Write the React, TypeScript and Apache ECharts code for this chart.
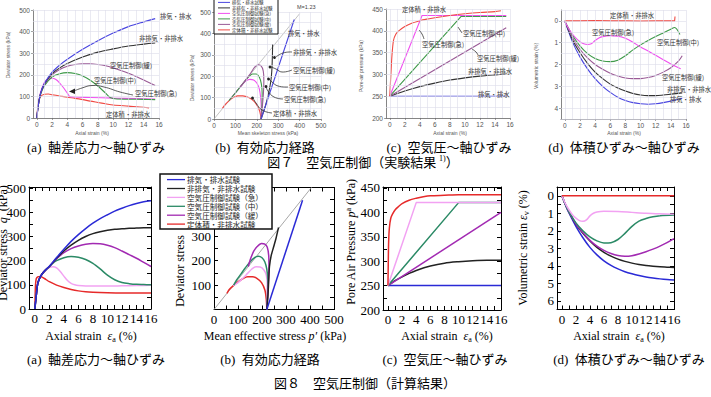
import React, { useEffect, useRef } from "react";
import * as echarts from "echarts";

type P = [number, number];

// ---------- fonts ----------
const SANS = "'Liberation Sans', 'DejaVu Sans', sans-serif";
const SERIF = "'Liberation Serif', 'Times New Roman', serif";
const JP = "'Noto Sans CJK JP', sans-serif";
const SERIF_JP = "'Liberation Serif', 'Noto Sans CJK JP', serif";

// ---------- tick values ----------
const strainLabels = [0, 2, 4, 6, 8, 10, 12, 14, 16];
const strainTicks = [0, 1, 2, 3, 4, 5, 6, 7, 8, 9, 10, 11, 12, 13, 14, 15, 16];
const stressLabels = [0, 100, 200, 300, 400, 500];
const pathStressLabels = [100, 200, 300];
const stressTicks = [0, 50, 100, 150, 200, 250, 300, 350, 400, 450, 500];
const airLabels = [200, 250, 300, 350, 400, 450];
const airTicks = [200, 225, 250, 275, 300, 325, 350, 375, 400, 425, 450];
const volLabelsExp = [0, 1, 2, 3, 4];
const volGridExp = [-0.5, 0, 0.5, 1, 1.5, 2, 2.5, 3, 3.5, 4, 4.5];
const volLabelsCalc = [0, 1, 2, 3, 4, 5, 6];
const volTicksCalc = [0, 0.5, 1, 1.5, 2, 2.5, 3, 3.5, 4, 4.5, 5, 5.5, 6];

// ---------- Fig.7 experiment: (a) deviator stress vs axial strain ----------
const expA_drained: P[] = [[0, 0], [0.2, 60], [0.5, 115], [1, 160], [2, 212], [3, 245], [4, 272], [6, 318], [8, 358], [10, 393], [12, 423], [14, 445], [15.5, 460]];
const expA_undrained: P[] = [[0, 0], [0.2, 60], [0.5, 115], [1, 158], [2, 205], [3, 232], [4, 252], [6, 282], [8, 305], [10, 320], [12, 333], [14, 342], [15.5, 348]];
const expA_slow: P[] = [[0, 0], [0.2, 60], [0.5, 112], [1, 155], [2, 200], [3, 225], [4, 240], [5, 248], [6, 251], [7, 251], [8, 248], [9, 242], [10, 232], [11, 220], [12, 207], [13, 192], [14, 176], [15.5, 150]];
const expA_mid: P[] = [[0, 0], [0.2, 60], [0.5, 110], [1, 150], [2, 190], [3, 205], [4, 210], [5, 206], [6, 195], [7, 175], [8, 148], [9, 115], [9.6, 95], [10.5, 88], [12, 87], [14, 86], [15.5, 85]];
const expA_fast: P[] = [[0, 0], [0.2, 60], [0.5, 120], [1, 165], [1.5, 182], [2, 184], [2.5, 178], [3, 162], [3.5, 140], [4, 115], [4.3, 100], [5, 97], [7, 95], [10, 92], [13, 90], [15.5, 88]];
const expA_constVol: P[] = [[0, 0], [0.2, 70], [0.5, 100], [1, 110], [1.5, 111], [2, 108], [3, 102], [4, 96], [5, 91], [6, 85], [7, 78], [8, 72], [9, 66], [10, 60], [12, 55], [14, 50], [14.7, 47]];

// ---------- Fig.7 experiment: (b) effective stress path ----------
const expB_mLine: P[] = [[0, 0], [400, 492]];
const expB_drained: P[] = [[220, 0], [375, 465]];
const expB_undrained: P[] = [[220, 0], [240, 60], [255, 120], [266, 180], [271, 240], [273, 300], [274, 350]];
const expB_slow: P[] = [[220, 0], [226, 60], [231, 120], [233, 180], [230, 225], [220, 248], [205, 253], [190, 242], [172, 215], [155, 192], [140, 172], [122, 150]];
const expB_mid: P[] = [[220, 0], [224, 60], [225, 120], [221, 165], [212, 195], [198, 210], [180, 210], [163, 198], [145, 178], [125, 153], [105, 128], [85, 104], [70, 86]];
const expB_fast: P[] = [[220, 0], [221, 50], [218, 100], [212, 140], [200, 168], [185, 182], [168, 185], [150, 178], [132, 160], [115, 140], [95, 116], [72, 88]];
const expB_constVol: P[] = [[220, 0], [214, 35], [202, 62], [185, 85], [162, 100], [135, 108], [110, 108], [90, 100], [70, 85], [50, 65], [38, 48]];

// ---------- Fig.7 experiment: (c) pore air pressure ----------
const expC_drained: P[] = [[0, 250], [15.5, 250]];
const expC_undrained: P[] = [[0, 250], [1, 256], [2, 262], [4, 272], [6, 280], [8, 287], [10, 292], [12, 296], [14, 299], [15.5, 301]];
const expC_slow: P[] = [[0, 250], [15.5, 407]];
const expC_mid: P[] = [[0, 250], [9.5, 433], [15.5, 433]];
const expC_fast: P[] = [[0, 250], [4.3, 435], [15.5, 435]];
const expC_constVol: P[] = [[0, 250], [0.15, 300], [0.3, 345], [0.5, 378], [0.8, 392], [1.2, 400], [2, 410], [3, 418], [4, 423], [4.4, 425], [5, 427], [6, 430], [8, 435], [10, 439], [12, 442], [14, 444], [14.8, 446]];

// ---------- Fig.7 experiment: (d) volumetric strain ----------
const expD_constVol: P[] = [[0, 0], [2, 0], [4, -0.02], [6, 0], [8, 0], [10, 0.01], [12, 0], [14, 0], [14.5, 0], [14.55, -0.2]];
const expD_fast: P[] = [[0, 0], [0.5, 0.35], [1, 0.6], [1.5, 0.8], [2, 0.95], [2.5, 1.05], [3, 1.08], [3.5, 1.05], [4, 0.9], [4.5, 0.78], [5, 0.72], [6, 0.68], [7, 0.7], [8, 0.8], [9, 0.98], [10, 1.2], [11, 1.38], [12, 1.58], [13, 1.78], [14, 1.98], [15.3, 2.2]];
const expD_mid: P[] = [[0, 0], [1, 0.65], [2, 1.15], [3, 1.5], [4, 1.72], [5, 1.84], [6, 1.87], [7, 1.8], [8, 1.6], [9, 1.33], [10, 1.1], [11, 0.9], [12, 0.72], [13, 0.55], [14, 0.38], [14.5, 0.3], [15.2, 0.62]];
const expD_slow: P[] = [[0, 0], [1, 0.75], [2, 1.3], [3, 1.7], [4, 2.0], [5, 2.22], [6, 2.4], [7, 2.53], [8, 2.62], [9, 2.65], [10, 2.65], [11, 2.6], [12, 2.5], [13, 2.35], [14, 2.15], [15, 1.85], [15.5, 1.6]];
const expD_undrained: P[] = [[0, 0], [1, 0.85], [2, 1.45], [3, 1.95], [4, 2.35], [5, 2.65], [6, 2.9], [7, 3.08], [8, 3.22], [9, 3.33], [10, 3.4], [11, 3.43], [12, 3.43], [13, 3.4], [14, 3.36], [15.5, 3.3]];
const expD_drained: P[] = [[0, 0], [1, 0.95], [2, 1.65], [3, 2.2], [4, 2.65], [5, 3.0], [6, 3.28], [7, 3.5], [8, 3.65], [9, 3.75], [10, 3.8], [11, 3.82], [12, 3.8], [13, 3.75], [14, 3.68], [15.5, 3.55]];

// ---------- Fig.8 calculation: (a) ----------
const calcA_drained: P[] = [[0, 0], [0.2, 55], [0.4, 105], [0.7, 130], [1, 145], [1.5, 162], [2, 177], [3, 213], [4, 247], [5, 280], [6, 308], [7, 333], [8, 355], [9, 374], [10, 390], [11, 405], [12, 417], [13, 428], [14, 437], [15, 444], [16, 448]];
const calcA_undrained: P[] = [[0, 0], [0.2, 55], [0.4, 105], [0.7, 130], [1, 145], [1.5, 162], [2, 176], [3, 210], [4, 240], [5, 264], [6, 284], [7, 300], [8, 312], [9, 320], [10, 326], [11, 330], [12, 332], [13, 334], [14, 335], [15, 336], [16, 336]];
const calcA_slow: P[] = [[0, 0], [0.2, 55], [0.4, 105], [0.7, 130], [1, 145], [1.5, 162], [2, 176], [3, 208], [4, 233], [5, 250], [6, 261], [7, 268], [8, 271], [9, 270], [10, 264], [11, 254], [12, 240], [13, 225], [14, 210], [15, 193], [16, 176]];
const calcA_mid: P[] = [[0, 0], [0.2, 55], [0.4, 105], [0.7, 130], [1, 145], [1.5, 162], [2, 175], [2.5, 190], [3, 200], [4, 212], [5, 217], [6, 214], [7, 205], [8, 189], [9, 166], [10, 140], [11, 121], [12, 110], [13, 105], [14, 102], [15, 101], [16, 100]];
const calcA_fast: P[] = [[0, 0], [0.2, 55], [0.4, 105], [0.7, 130], [1, 145], [1.5, 162], [2, 172], [2.5, 175], [3, 170], [3.5, 155], [4, 136], [4.5, 118], [5, 106], [5.5, 100], [6, 97], [7, 95], [8, 95], [10, 95], [12, 96], [14, 97], [16, 98]];
const calcA_constVol: P[] = [[0, 0], [0.05, 60], [0.1, 100], [0.2, 125], [0.4, 133], [0.7, 135], [1, 132], [1.5, 123], [2, 113], [3, 99], [4, 89], [5, 81], [6, 75], [7, 71], [8, 69], [10, 67], [12, 66], [16, 66]];

// ---------- Fig.8 calculation: (b) ----------
const calcB_mLine: P[] = [[0, 0], [406, 500]];
const calcB_drained: P[] = [[220, 0], [369, 448]];
const calcB_undrained: P[] = [[220, 0], [225, 60], [228, 120], [231, 175], [238, 220], [248, 255], [258, 290], [265, 320], [269, 336]];
const calcB_slow: P[] = [[220, 0], [224, 60], [227, 120], [229, 175], [228, 220], [222, 255], [212, 268], [198, 270], [180, 258], [165, 238], [155, 215], [148, 195], [143, 176]];
const calcB_mid: P[] = [[220, 0], [223, 60], [224, 120], [220, 165], [212, 195], [200, 212], [185, 218], [168, 212], [150, 195], [130, 170], [112, 145], [95, 122], [82, 100]];
const calcB_fast: P[] = [[220, 0], [222, 50], [222, 100], [218, 140], [208, 162], [192, 174], [175, 175], [158, 166], [140, 148], [120, 128], [100, 110], [80, 98]];
const calcB_constVol: P[] = [[220, 0], [218, 40], [212, 80], [198, 110], [180, 127], [160, 134], [140, 134], [120, 126], [100, 113], [80, 97], [62, 80], [54, 66]];

// ---------- Fig.8 calculation: (c) ----------
const calcC_drained: P[] = [[0, 250], [16, 250]];
const calcC_undrained: P[] = [[0, 250], [1, 260], [2, 268], [3, 275], [4, 281], [6, 290], [8, 296], [10, 299], [12, 301], [14, 302], [16, 302]];
const calcC_slow: P[] = [[0, 250], [16, 400]];
const calcC_mid: P[] = [[0, 250], [10, 420], [16, 420]];
const calcC_fast: P[] = [[0, 250], [4, 420], [16, 420]];
const calcC_constVol: P[] = [[0, 250], [0.05, 300], [0.1, 340], [0.2, 368], [0.4, 388], [0.7, 398], [1, 405], [1.5, 412], [2, 418], [3, 425], [4, 429], [5, 432], [6, 434], [8, 435], [10, 436], [16, 436]];

// ---------- Fig.8 calculation: (d) ----------
const calcD_constVol: P[] = [[0, 0], [16, 0]];
const calcD_fast: P[] = [[0, 0], [0.5, 0.45], [1, 0.8], [1.5, 1.08], [2, 1.28], [2.5, 1.42], [3, 1.46], [3.5, 1.38], [4, 1.15], [4.5, 1.0], [5, 0.93], [6, 0.89], [8, 0.9], [10, 0.95], [12, 1.0], [14, 1.03], [16, 1.05]];
const calcD_mid: P[] = [[0, 0], [0.5, 0.5], [1, 0.9], [2, 1.55], [3, 2.0], [4, 2.35], [5, 2.58], [6, 2.7], [7, 2.68], [8, 2.5], [9, 2.15], [10, 1.75], [11, 1.45], [12, 1.3], [13, 1.2], [14, 1.14], [16, 1.1]];
const calcD_slow: P[] = [[0, 0], [0.5, 0.5], [1, 0.92], [2, 1.6], [3, 2.1], [4, 2.55], [5, 2.88], [6, 3.12], [7, 3.3], [8, 3.42], [9, 3.46], [10, 3.43], [11, 3.33], [12, 3.2], [13, 3.05], [14, 2.88], [15, 2.68], [16, 2.45]];
const calcD_undrained: P[] = [[0, 0], [0.5, 0.5], [1, 0.92], [2, 1.62], [3, 2.15], [4, 2.58], [5, 2.95], [6, 3.23], [7, 3.45], [8, 3.62], [9, 3.75], [10, 3.85], [11, 3.93], [12, 3.99], [13, 4.03], [14, 4.06], [15, 4.08], [16, 4.1]];
const calcD_drained: P[] = [[0, 0], [0.5, 0.52], [1, 0.97], [2, 1.75], [3, 2.4], [4, 2.95], [5, 3.38], [6, 3.72], [7, 3.98], [8, 4.18], [9, 4.34], [10, 4.46], [11, 4.56], [12, 4.64], [13, 4.7], [14, 4.75], [15, 4.79], [16, 4.82]];

// ---------- legend texts & colours ----------
const expLegend = ["排気・排水試験", "非排気・非排水試験", "空気圧制御試験(急)", "空気圧制御試験(中)", "空気圧制御試験(緩)", "定体積・非排水試験"];
const calcLegend = ["排気・排水試験", "非排気・非排水試験", "空気圧制御試験（急）", "空気圧制御試験（中）", "空気圧制御試験（緩）", "定体積・非排水試験"];
const expColors = ["#4a46e0", "#333333", "#f050f0", "#3f9a4a", "#9a5a96", "#f04a44"];
const calcColors = ["#2a2ad6", "#222222", "#f2a2f2", "#2b8a66", "#a22ab2", "#e62a2a"];

const W = 711;
const H = 397;

const range = (a: number, b: number, s: number) => {
  const out: number[] = [];
  for (let v = a; v <= b + 1e-9; v += s) out.push(Math.round(v * 1000) / 1000);
  return out;
};

function buildOption() {
  const grids = [
    { left: 33, top: 10, width: 126, height: 108 },
    { left: 214, top: 12, width: 107, height: 107 },
    { left: 386, top: 9, width: 124, height: 109 },
    { left: 561, top: 10, width: 125, height: 109 },
    { left: 29, top: 187, width: 122, height: 122 },
    { left: 214, top: 187.5, width: 120, height: 122 },
    { left: 383, top: 187, width: 118, height: 123 },
    { left: 557, top: 187, width: 117, height: 122.5 },
  ];

  const topAxisLine = { show: true, onZero: false, lineStyle: { color: "#666", width: 0.8 } };
  const topLabel = (vals: number[]) => ({ customValues: vals, fontSize: 6.5, color: "#555", fontFamily: SANS, margin: 3 });
  const topTick = (vals: number[]) => ({ show: true, inside: false, length: 2, customValues: vals, lineStyle: { color: "#666", width: 0.6 } });

  const xTop = (gi: number, min: number, max: number, labels: number[]) => ({
    type: "value", gridIndex: gi, min, max, position: "bottom",
    axisLine: topAxisLine, axisTick: topTick(labels), axisLabel: topLabel(labels), splitLine: { show: false },
  });
  const yTop = (gi: number, min: number, max: number, labels: number[], inverse = false) => ({
    type: "value", gridIndex: gi, min, max, inverse, position: "left",
    axisLine: topAxisLine, axisTick: topTick(labels), axisLabel: topLabel(labels), splitLine: { show: false },
  });

  const blackLine = { show: true, onZero: false, lineStyle: { color: "#000", width: 1 } };
  const calcTick = (vals: number[]) => ({ show: true, inside: true, length: 4, customValues: vals, lineStyle: { color: "#000", width: 1 } });
  const calcLabel = (vals: number[], margin: number) => ({ customValues: vals, fontSize: 13, color: "#000", fontFamily: SERIF, margin });

  const xCalc = (gi: number, min: number, max: number, labels: number[], ticks: number[], pos: "bottom" | "top") => ({
    type: "value", gridIndex: gi, min, max, position: pos,
    axisLine: blackLine, axisTick: calcTick(ticks),
    axisLabel: pos === "bottom" ? calcLabel(labels, 3) : { show: false },
    splitLine: { show: false },
  });
  const yCalc = (gi: number, min: number, max: number, labels: number[], ticks: number[], pos: "left" | "right", inverse = false) => ({
    type: "value", gridIndex: gi, min, max, inverse, position: pos,
    axisLine: blackLine, axisTick: calcTick(ticks),
    axisLabel: pos === "left" ? calcLabel(labels, 3) : { show: false },
    splitLine: { show: false },
  });

  const xAxis = [
    xTop(0, -0.5, 16, strainLabels),
    xTop(1, 0, 500, stressLabels),
    xTop(2, -0.5, 16, strainLabels),
    xTop(3, -0.5, 16, strainLabels),
    xCalc(4, -0.8, 16, strainLabels, strainTicks, "bottom"),
    xCalc(5, 0, 500, stressLabels, stressTicks, "bottom"),
    xCalc(6, -0.7, 16, strainLabels, strainTicks, "bottom"),
    xCalc(7, -0.7, 16, strainLabels, strainTicks, "bottom"),
    xCalc(4, -0.8, 16, strainLabels, strainTicks, "top"),
    xCalc(5, 0, 500, stressLabels, stressTicks, "top"),
    xCalc(6, -0.7, 16, strainLabels, strainTicks, "top"),
    xCalc(7, -0.7, 16, strainLabels, strainTicks, "top"),
  ];
  const yAxis = [
    yTop(0, 0, 500, stressLabels),
    yTop(1, 0, 500, stressLabels),
    yTop(2, 200, 450, airLabels),
    yTop(3, -0.5, 4.5, volLabelsExp, true),
    yCalc(4, 0, 505, stressLabels, stressTicks, "left"),
    yCalc(5, 0, 500, pathStressLabels, stressTicks, "left"),
    yCalc(6, 200, 452, airLabels, airTicks, "left"),
    yCalc(7, -0.5, 6.5, volLabelsCalc, volTicksCalc, "left", true),
    yCalc(4, 0, 505, stressLabels, stressTicks, "right"),
    yCalc(5, 0, 500, stressLabels, stressTicks, "right"),
    yCalc(6, 200, 452, airLabels, airTicks, "right"),
    yCalc(7, -0.5, 6.5, volLabelsCalc, volTicksCalc, "right", true),
  ];

  // faint reference grid of the experiment panels
  const gridLines = (gi: number, xs: number[], ys: number[]) => ({
    type: "line", xAxisIndex: gi, yAxisIndex: gi, data: [], silent: true, z: 1,
    markLine: {
      silent: true, symbol: ["none", "none"], label: { show: false }, animation: false,
      lineStyle: { color: "#dcdcea", width: 0.6, type: "solid" },
      emphasis: { disabled: true },
      data: [...xs.map((v) => ({ xAxis: v })), ...ys.map((v) => ({ yAxis: v }))],
    },
  });

  const curve = (gi: number, data: P[], color: string, width: number, smooth: number | boolean = 0.3) => ({
    type: "line", xAxisIndex: gi, yAxisIndex: gi, data, symbol: "none", showSymbol: false,
    smooth, silent: true, z: 3, lineStyle: { color, width }, emphasis: { disabled: true },
  });

  const E = expColors;
  const C = calcColors;
  const ew = 1.1;
  const cw = 1.5;

  const series: any[] = [
    gridLines(0, range(0, 16, 1), range(50, 500, 50)),
    gridLines(1, range(50, 500, 50), range(50, 500, 50)),
    gridLines(2, range(0, 16, 1), range(225, 450, 25)),
    gridLines(3, range(0, 16, 1), volGridExp),

    curve(0, expA_constVol, E[5], ew), curve(0, expA_fast, E[2], ew), curve(0, expA_mid, E[3], ew),
    curve(0, expA_slow, E[4], ew), curve(0, expA_undrained, E[1], ew), curve(0, expA_drained, E[0], ew),

    curve(1, expB_mLine, "#b4b4b4", 0.8, false),
    curve(1, expB_constVol, E[5], ew), curve(1, expB_fast, E[2], ew), curve(1, expB_mid, E[3], ew),
    curve(1, expB_slow, E[4], ew), curve(1, expB_undrained, E[1], ew, 0.2), curve(1, expB_drained, E[0], ew, false),

    curve(2, expC_drained, E[0], ew, false), curve(2, expC_undrained, E[1], ew), curve(2, expC_slow, E[4], ew, false),
    curve(2, expC_mid, E[3], ew, false), curve(2, expC_fast, E[2], ew, false), curve(2, expC_constVol, E[5], ew),

    curve(3, expD_drained, E[0], ew), curve(3, expD_undrained, E[1], ew), curve(3, expD_slow, E[4], ew),
    curve(3, expD_mid, E[3], ew), curve(3, expD_fast, E[2], ew), curve(3, expD_constVol, E[5], ew, false),

    curve(4, calcA_constVol, C[5], cw), curve(4, calcA_fast, C[2], cw), curve(4, calcA_mid, C[3], cw),
    curve(4, calcA_slow, C[4], cw), curve(4, calcA_undrained, C[1], cw), curve(4, calcA_drained, C[0], cw),

    curve(5, calcB_mLine, "#a8a8a8", 1, false),
    curve(5, calcB_constVol, C[5], cw), curve(5, calcB_fast, C[2], cw), curve(5, calcB_mid, C[3], cw),
    curve(5, calcB_slow, C[4], cw), curve(5, calcB_undrained, C[1], cw, 0.2), curve(5, calcB_drained, C[0], cw, false),

    curve(6, calcC_drained, C[0], cw, false), curve(6, calcC_undrained, C[1], cw), curve(6, calcC_slow, C[4], cw, false),
    curve(6, calcC_mid, C[3], cw, false), curve(6, calcC_fast, C[2], cw, false), curve(6, calcC_constVol, C[5], cw),

    curve(7, calcD_drained, C[0], cw), curve(7, calcD_undrained, C[1], cw), curve(7, calcD_slow, C[4], cw),
    curve(7, calcD_mid, C[3], cw), curve(7, calcD_fast, C[2], cw), curve(7, calcD_constVol, C[5], cw, false),
  ];

  // ---------- graphic texts ----------
  const txt = (text: string, x: number, y: number, o: any = {}) => ({
    type: "text", x, y, z: o.z || 20, silent: true, rotation: o.rot || 0,
    style: {
      text, fill: o.fill || "#000", fontSize: o.size || 12, fontFamily: o.family || JP,
      fontStyle: o.italic ? "italic" : "normal", fontWeight: o.weight || "normal",
      lineHeight: o.lineHeight,
      textAlign: o.align || "left", align: o.align || "left",
      textVerticalAlign: "middle", verticalAlign: "middle", rich: o.rich,
    },
  });
  const note = (text: string, x: number, y: number) => txt(text, x, y, { size: 6.3, fill: "#333" });
  const axName = (text: string, x: number, y: number, rot = false) =>
    txt(text, x, y, { size: 5, fill: "#555", family: SANS, align: "center", rot: rot ? Math.PI / 2 : 0 });

  const richSerif = {
    e: { fontFamily: SERIF, fontStyle: "italic", fontSize: 12, lineHeight: 14 },
    s: { fontFamily: SERIF, fontSize: 8, verticalAlign: "bottom", lineHeight: 14, padding: [4, 0, 0, 0] },
    t: { fontFamily: SERIF, fontSize: 8, verticalAlign: "top", lineHeight: 14 },
  };
  const calcName = (text: string, x: number, y: number, rot = false) =>
    txt(text, x, y, { size: 12, family: SERIF, align: "center", rot: rot ? Math.PI / 2 : 0, rich: richSerif });

  const leader = (pts: number[][], dot?: number[]) => {
    const g: any[] = [{ type: "polyline", z: 18, silent: true, shape: { points: pts, smooth: 0.5 }, style: { stroke: "#333", lineWidth: 0.8, fill: "none" } }];
    if (dot) g.push({ type: "circle", z: 19, silent: true, shape: { cx: dot[0], cy: dot[1], r: 1.4 }, style: { fill: "#222" } });
    return g;
  };

  // legend drawn as a framed box; every element carries its own z so it sits above axes and labels
  const legendBox = (x: number, y: number, w: number, h: number, rows: number[], lineX: number[], textX: number, size: number, names: string[], colors: string[], border: number, lw: number) => {
    const els: any[] = [{ type: "rect", z: 60, silent: true, shape: { x, y, width: w, height: h }, style: { fill: "#fff", stroke: "#111", lineWidth: border } }];
    names.forEach((n, i) => {
      els.push({ type: "line", z: 61, silent: true, shape: { x1: lineX[0], y1: rows[i], x2: lineX[1], y2: rows[i] }, style: { stroke: colors[i], lineWidth: lw } });
      els.push(txt(n, textX, rows[i], { size, fill: "#222", z: 61, lineHeight: size }));
    });
    return els;
  };

  const graphic: any[] = [
    // experiment axis names
    axName("Deviator stress (kPa)", 8, 55, true),
    axName("Axial strain (%)", 92, 133),
    axName("Deviator stress (kPa)", 192, 78, true),
    axName("Mean skeleton stress (kPa)", 268, 133),
    axName("Pore-air pressure (kPa)", 361, 66, true),
    axName("Axial strain (%)", 450, 133),
    axName("Volumetric strain (%)", 536, 66, true),
    axName("Axial strain (%)", 624, 133),

    // experiment curve notes
    note("排気・排水", 160, 16), note("非排気・非排水", 139, 38), note("空気圧制御(緩)", 110, 65),
    note("空気圧制御(中)", 94, 80), note("空気圧制御(急)", 135, 93), note("定体積・非排水", 106, 114),
    ...leader([[133, 95], [120, 92], [104, 87], [92, 85.5], [82, 88], [74, 91]]),
    { type: "polygon", z: 19, silent: true, shape: { points: [[69, 91.5], [75, 88.5], [75, 94]] }, style: { fill: "#222" } },

    txt("M=1.23", 297, 7, { size: 5.5, family: SANS, fill: "#444" }),
    note("排気・排水", 288, 33), note("非排気・非排水", 293, 52), note("空気圧制御(緩)", 293, 70),
    note("空気圧制御(中)", 289, 87), note("空気圧制御(急)", 284, 99), note("定体積・非排水", 273, 113),
    ...leader([[292, 52], [283, 53], [276, 57]], [274.5, 57.5]),
    ...leader([[292, 70], [282, 72], [276, 69], [271, 67]], [270, 67]),
    ...leader([[288, 87], [278, 86], [272, 82], [269, 79]], [268.5, 79]),
    ...leader([[283, 99], [274, 97], [268, 91], [266, 87]], [266, 86.5]),
    ...leader([[272, 113], [262, 110], [256, 103], [253, 98]], [252.5, 98]),

    note("定体積・非排水", 402, 9), note("空気圧制御(中)", 463, 33), note("空気圧制御(急)", 422, 44),
    note("空気圧制御(緩)", 477, 58), note("非排気・非排水", 468, 71), note("排気・排水", 478, 94),
    ...leader([[424, 39], [422, 34], [419, 30]]),
    ...leader([[462, 33], [460, 30], [458, 27]]),
    ...leader([[478, 55], [476, 52], [472, 49]]),

    note("定体積・非排水", 610, 15), note("空気圧制御(急)", 592, 32), note("空気圧制御(中)", 657, 42),
    note("空気圧制御(緩)", 662, 77), note("非排気・非排水", 667, 89), note("排気・排水", 670, 99),

    ...legendBox(214, -1, 64, 35, [2.4, 7.9, 13.4, 18.9, 24.4, 29.9], [218, 230], 232, 4.5, expLegend, expColors, 1, 1),

    // captions of Fig.7
    txt("(a)  軸差応力〜軸ひずみ", 96, 147, { size: 13, family: SERIF_JP, align: "center" }),
    txt("(b)  有効応力経路", 265, 147, { size: 13, family: SERIF_JP, align: "center" }),
    txt("(c)  空気圧〜軸ひずみ", 449, 147, { size: 13, family: SERIF_JP, align: "center" }),
    txt("(d)  体積ひずみ〜軸ひずみ", 624, 147, { size: 13, family: SERIF_JP, align: "center" }),
    txt("図７　空気圧制御（実験結果 {t|1)}）", 363, 161, { size: 13, align: "center", rich: richSerif }),

    // calculation axis names
    calcName("Deviator stress  {e|q}  (kPa)", 3, 243, true),
    calcName("Deviator stress", 180, 271, true),
    calcName("Pore Air Pressure {e|p}{t|a} (kPa)", 351, 242, true),
    calcName("Volumetric strain {e|ε}{s|v} (%)", 523, 248, true),
    calcName("Axial strain  {e|ε}{s|a} (%)", 91, 336),
    calcName("Mean effective stress {e|p′} (kPa)", 275, 336),
    calcName("Axial strain  {e|ε}{s|a} (%)", 447, 336),
    calcName("Axial strain  {e|ε}{s|a} (%)", 619, 336),

    ...legendBox(160, 174, 112, 55, [179.6, 188.5, 197.4, 206.3, 215.2, 224.1], [167, 185], 187, 7.6, calcLegend, calcColors, 1.5, 1.3),

    // captions of Fig.8
    txt("(a)  軸差応力〜軸ひずみ", 96, 359, { size: 13, family: SERIF_JP, align: "center" }),
    txt("(b)  有効応力経路", 270, 359, { size: 13, family: SERIF_JP, align: "center" }),
    txt("(c)  空気圧〜軸ひずみ", 445, 359, { size: 13, family: SERIF_JP, align: "center" }),
    txt("(d)  体積ひずみ〜軸ひずみ", 629, 359, { size: 13, family: SERIF_JP, align: "center" }),
    txt("図８　空気圧制御（計算結果）", 365, 382, { size: 13, align: "center" }),
  ];

  return {
    animation: false,
    backgroundColor: "#ffffff",
    grid: grids.map((g) => ({ ...g, containLabel: false })),
    xAxis,
    yAxis,
    series,
    graphic: { elements: graphic },
  };
}

export default function App() {
  const ref = useRef<HTMLDivElement>(null);
  useEffect(() => {
    if (!ref.current) return;
    const chart = echarts.init(ref.current, null, { renderer: "svg", width: W, height: H });
    chart.setOption(buildOption() as any);
    return () => chart.dispose();
  }, []);
  return (
    <div
      ref={ref}
      style={{ position: "absolute", left: 0, top: 0, width: W, height: H, background: "#fff" }}
    />
  );
}
